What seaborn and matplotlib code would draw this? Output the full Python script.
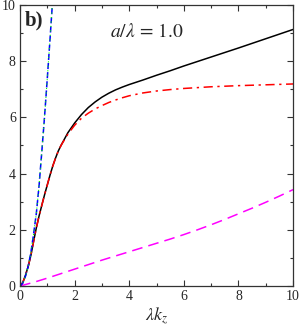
#!/usr/bin/env python3
"""Dispersion curves, panel b) a/lambda = 1.0"""

import matplotlib
matplotlib.use("Agg")
import matplotlib.pyplot as plt
from matplotlib.ticker import MultipleLocator
import pandas as pd
import seaborn as sns

# black solid
k_black = [0, 0.1, 0.2, 0.3, 0.4, 0.5, 0.6, 0.7, 0.8, 0.9, 1.0, 1.1, 1.2, 1.3, 1.4, 1.5,
           1.75, 2.0, 2.25, 2.5, 2.75, 3.0, 3.25, 3.5, 3.75, 4.0, 4.5, 5, 5.5, 6, 7, 8, 9, 10]
w_black = [0, 0.12, 0.38, 0.7, 1.1, 1.6, 2.08, 2.5, 2.88, 3.25, 3.6, 3.95, 4.27, 4.55, 4.8, 5.0,
           5.45, 5.8, 6.1, 6.35, 6.55, 6.72, 6.86, 6.98, 7.08, 7.17, 7.33, 7.5, 7.66, 7.83,
           8.15, 8.47, 8.8, 9.13]
# red dash-dot
k_red = [0, 0.1, 0.2, 0.3, 0.4, 0.5, 0.6, 0.7, 0.8, 0.9, 1.0, 1.1, 1.2, 1.3, 1.4, 1.5,
         1.75, 2.0, 2.25, 2.5, 2.75, 3.0, 3.25, 3.5, 3.75, 4.0, 4.5, 5, 5.5, 6, 7, 8, 9, 10]
w_red = [0, 0.12, 0.38, 0.7, 1.1, 1.6, 2.08, 2.5, 2.88, 3.25, 3.6, 3.95, 4.27, 4.55, 4.8, 5.0,
         5.4, 5.72, 5.97, 6.15, 6.3, 6.42, 6.53, 6.62, 6.7, 6.77, 6.87, 6.94, 6.99, 7.03,
         7.09, 7.13, 7.16, 7.19]
# blue dashed / green dotted (overlapping)
k_blue = [0, 0.1, 0.2, 0.3, 0.4, 0.5, 0.6, 0.7, 0.8, 0.9, 1.0, 1.1, 1.2]
w_blue = [0, 0.1, 0.35, 0.7, 1.2, 1.87, 2.6, 3.6, 4.8, 6.05, 7.4, 8.8, 10.25]
# magenta dashed
k_mag = [0, 0.5, 1, 1.5, 2, 2.5, 3, 3.5, 4, 4.5, 5, 5.5, 6, 6.5, 7, 7.5, 8, 8.5, 9, 9.5, 10]
w_mag = [0, 0.13, 0.28, 0.44, 0.6, 0.76, 0.92, 1.07, 1.22, 1.37, 1.52, 1.67, 1.83, 2.0,
         2.18, 2.37, 2.57, 2.77, 2.98, 3.2, 3.43]

sns.set_style("ticks")
plt.rcParams["font.family"] = ["Liberation Serif", "DejaVu Serif"]
plt.rcParams["mathtext.fontset"] = "stix"

fig = plt.figure(figsize=(3.0, 3.27), dpi=100)
ax = fig.add_axes([0.0667, 0.1254, 0.9103, 0.8593])


def draw(k, w, **kw):
    sns.lineplot(data=pd.DataFrame({"k": k, "w": w}), x="k", y="w", ax=ax,
                 estimator=None, sort=False, **kw)


draw(k_mag, w_mag, color="#ff00ff", lw=1.1, linestyle=(0, (7, 4)))
draw(k_black, w_black, color="black", lw=1.1)
draw(k_red, w_red, color="red", lw=1.1, linestyle=(0, (6, 3, 1.5, 3)))
draw(k_blue, w_blue, color="blue", lw=1.1, linestyle=(0, (4, 2)))
draw(k_blue, w_blue, color="#00ff00", lw=0.8, linestyle=(0, (1, 3)))

ax.set_xlim(0, 10)
ax.set_ylim(0, 10)
ax.xaxis.set_major_locator(MultipleLocator(2))
ax.xaxis.set_minor_locator(MultipleLocator(1))
ax.yaxis.set_major_locator(MultipleLocator(2))
ax.yaxis.set_minor_locator(MultipleLocator(1))
ax.tick_params(which="both", direction="in", top=True, right=True,
               labelsize=10, width=0.8, color="#333333")
ax.tick_params(which="major", length=4, pad=3)
ax.tick_params(which="minor", length=2.5)
for s in ax.spines.values():
    s.set_linewidth(0.9)
    s.set_color("#333333")

ax.set_xlabel(r"$\lambda k_z$", fontsize=13, labelpad=2)
ax.set_ylabel("")
ax.text(3.3, 9.04, r"$a/\lambda\,=\,1.0$", fontsize=14, va="center", ha="left")
ax.text(0.18, 9.45, "b)", fontsize=15, fontweight="bold", va="center", ha="left")

fig.savefig("out.png", dpi=100)
